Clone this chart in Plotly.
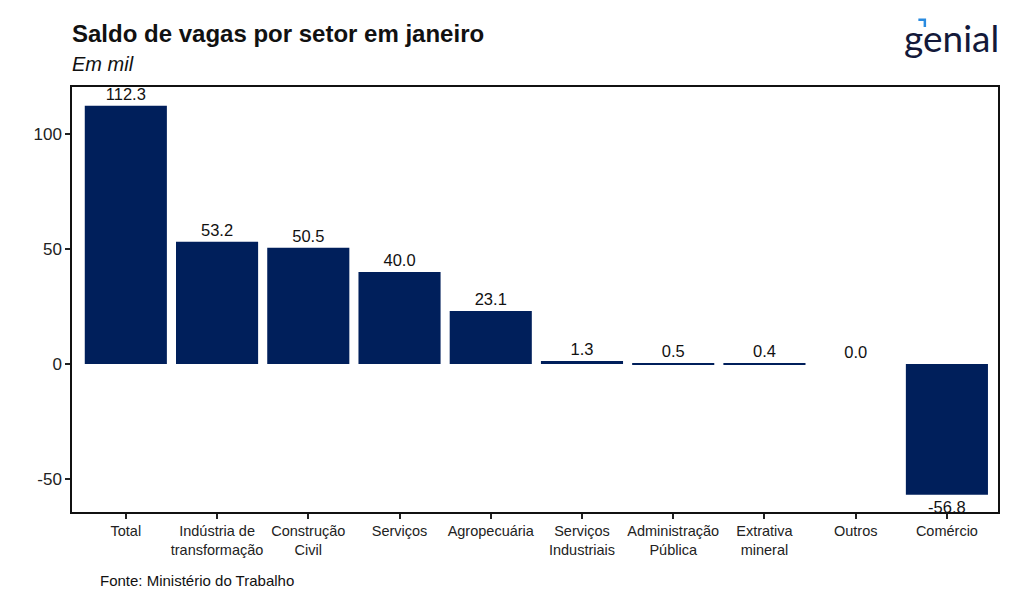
import plotly.graph_objects as go

categories = ["Total", "Indústria de<br>transformação", "Construção<br>Civil", "Serviços",
              "Agropecuária", "Serviços<br>Industriais", "Administração<br>Pública",
              "Extrativa<br>mineral", "Outros", "Comércio"]
values = [112.3, 53.2, 50.5, 40.0, 23.1, 1.3, 0.5, 0.4, 0.0, -56.8]
ytick_vals = [-50, 0, 50, 100]
ytick_text = ["-50", "0", "50", "100"]
grid_vals = [-25, 25, 75]

font = "Liberation Sans, Arial, sans-serif"
bar_color = "#001F5B"
yrange = [-64.3, 120.4]

fig = go.Figure()
fig.add_trace(go.Bar(
    x=list(range(len(categories))), y=values, width=0.9,
    marker=dict(color=bar_color, line=dict(width=0)),
    text=[f"{v:.1f}" for v in values], textposition="outside",
    textfont=dict(family=font, size=16.5, color="#111111"),
    cliponaxis=False, hoverinfo="skip",
))

fig.update_layout(
    width=1024, height=615,
    margin=dict(l=64, r=34, t=79, b=111),
    paper_bgcolor="white", plot_bgcolor="white",
    showlegend=False, bargap=0.1,
    font=dict(family=font, color="#111111"),
    xaxis=dict(
        range=[-0.59, 9.56], tickvals=list(range(len(categories))), ticktext=categories,
        ticks="outside", ticklen=5, tickwidth=1.5, tickcolor="#222222",
        tickfont=dict(size=14.5, color="#222222"),
        showline=True, linecolor="#111111", linewidth=1.5, mirror=True,
        showgrid=False, zeroline=False,
    ),
    yaxis=dict(
        range=yrange, tickvals=ytick_vals, ticktext=ytick_text,
        ticks="outside", ticklen=5, tickwidth=1.5, tickcolor="#222222",
        tickfont=dict(size=17, color="#222222"),
        showline=True, linecolor="#111111", linewidth=1.5, mirror=True,
        showgrid=False, zeroline=False,
    ),
    yaxis2=dict(
        range=yrange, overlaying="y", side="right", tickvals=grid_vals,
        showticklabels=False, ticks="", showgrid=True, gridcolor="#efefef", gridwidth=1,
        zeroline=False, showline=False, layer="below traces",
    ),
)

fig.add_annotation(xref="paper", yref="paper", x=0, y=1.0, xanchor="left", yanchor="middle",
                   xshift=-2, yshift=54, text="<b>Saldo de vagas por setor em janeiro</b>", showarrow=False,
                   font=dict(family=font, size=24, color="#111111"))
fig.add_annotation(xref="paper", yref="paper", x=0, y=1.0, xanchor="left", yanchor="middle",
                   xshift=-2, yshift=23, text="<i>Em mil</i>", showarrow=False,
                   font=dict(family=font, size=20, color="#111111"))
fig.add_annotation(xref="paper", yref="paper", x=0.03, y=0, xanchor="left", yanchor="middle",
                   xshift=-2, yshift=-68, text="Fonte: Ministério do Trabalho", showarrow=False,
                   font=dict(family=font, size=15, color="#111111"))
fig.add_annotation(xref="paper", yref="paper", x=1.003, y=1.0, xanchor="right", yanchor="middle",
                   yshift=50, text="genial", showarrow=False,
                   font=dict(family="Lato, Inter, sans-serif", size=37, color="#13193a"))
fig.add_shape(type="path", xref="paper", yref="paper",
              path="M 0.914 1.158 L 0.921 1.158 L 0.921 1.141", line=dict(color="#2a8be0", width=2.5))

fig.write_html("out.html")
